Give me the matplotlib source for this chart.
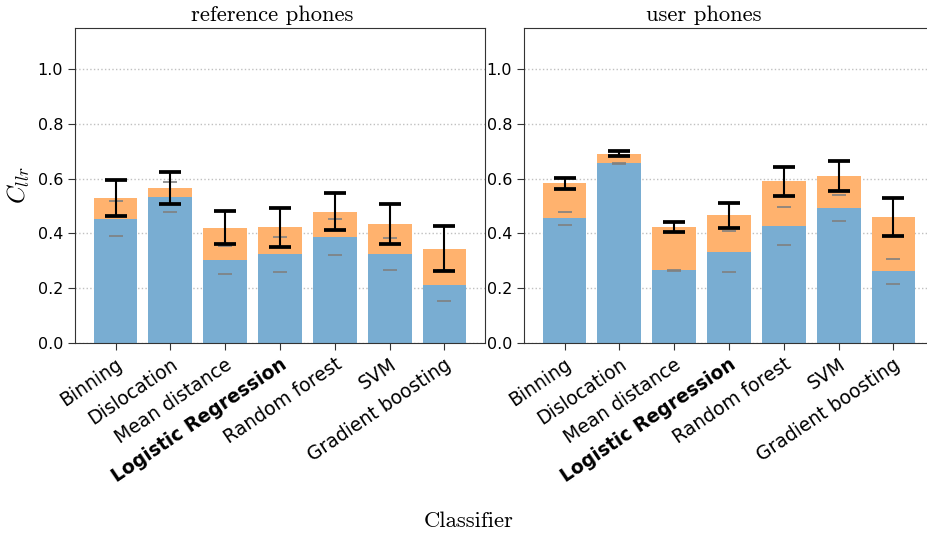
import numpy as np
import matplotlib
matplotlib.use("Agg")
import matplotlib.pyplot as plt

plt.rcParams["mathtext.fontset"] = "cm"

classifiers = ["Binning", "Dislocation", "Mean distance", "Logistic Regression",
               "Random forest", "SVM", "Gradient boosting"]
panels = ["reference phones", "user phones"]

# reference phones
ref_cllr = [0.529, 0.566, 0.421, 0.422, 0.480, 0.435, 0.345]
ref_cllr_err = [0.065, 0.060, 0.061, 0.071, 0.066, 0.073, 0.083]
ref_cllr_min = [0.453, 0.534, 0.303, 0.324, 0.387, 0.325, 0.210]
ref_cllr_min_err = [0.064, 0.055, 0.051, 0.063, 0.066, 0.057, 0.058]

# user phones
usr_cllr = [0.584, 0.691, 0.423, 0.466, 0.590, 0.611, 0.460]
usr_cllr_err = [0.020, 0.009, 0.018, 0.045, 0.054, 0.055, 0.071]
usr_cllr_min = [0.455, 0.656, 0.265, 0.333, 0.427, 0.493, 0.262]
usr_cllr_min_err = [0.025, 0.002, 0.002, 0.075, 0.068, 0.048, 0.045]

data = [(ref_cllr, ref_cllr_err, ref_cllr_min, ref_cllr_min_err),
        (usr_cllr, usr_cllr_err, usr_cllr_min, usr_cllr_min_err)]

blue = "#79add2"
orange = "#ffb26e"

fig = plt.figure(figsize=(9.27, 5.35), dpi=100)
W, H = 927, 535
axes = [fig.add_axes([75 / W, 1 - 343 / H, 410 / W, 315 / H]),
        fig.add_axes([524 / W, 1 - 343 / H, 410 / W, 315 / H])]

x = np.arange(len(classifiers))
for ax, (cllr, cllr_err, cmin, cmin_err) in zip(axes, data):
    cllr = np.array(cllr)
    cmin = np.array(cmin)
    ax.bar(x, cmin, width=0.8, color=blue, linewidth=0, zorder=2)
    ax.bar(x, cllr - cmin, bottom=cmin, width=0.8, color=orange, linewidth=0, zorder=2)
    ax.errorbar(x, cmin, yerr=cmin_err, fmt="none", ecolor="gray", elinewidth=0,
                capsize=5, capthick=1.2, zorder=3)
    ax.errorbar(x, cllr, yerr=cllr_err, fmt="none", ecolor="black", elinewidth=1.5,
                capsize=8, capthick=2.7, zorder=4)
    ax.set_ylim(0, 1.15)
    ax.set_yticks([0.0, 0.2, 0.4, 0.6, 0.8, 1.0])
    ax.grid(axis="y", linestyle=":", color="#c0c0c0", linewidth=1)
    ax.set_axisbelow(True)
    ax.set_xticks(x)
    ax.set_xticklabels(classifiers, rotation=34, ha="right", rotation_mode="anchor",
                       fontsize=13.5)
    for lbl in ax.get_xticklabels():
        if lbl.get_text() == "Logistic Regression":
            lbl.set_fontweight("bold")
    ax.tick_params(axis="y", labelsize=11.5)
    ax.tick_params(color="#333333", length=5)
    for s in ax.spines.values():
        s.set_color("#333333")

axes[0].set_ylabel("$C_{llr}$", fontsize=18)
axes[0].yaxis.set_label_coords(-0.105, 0.5)

fig.text(272 / W, 1 - 15 / H, panels[0], family="cmr10", fontsize=16.3, ha="center", va="center")
fig.text(704 / W, 1 - 15 / H, panels[1], family="cmr10", fontsize=16.3, ha="center", va="center")
fig.text(469 / W, 1 - 521 / H, "Classifier", family="cmr10", fontsize=16.3, ha="center", va="center")

fig.savefig("out.png", dpi=100)
